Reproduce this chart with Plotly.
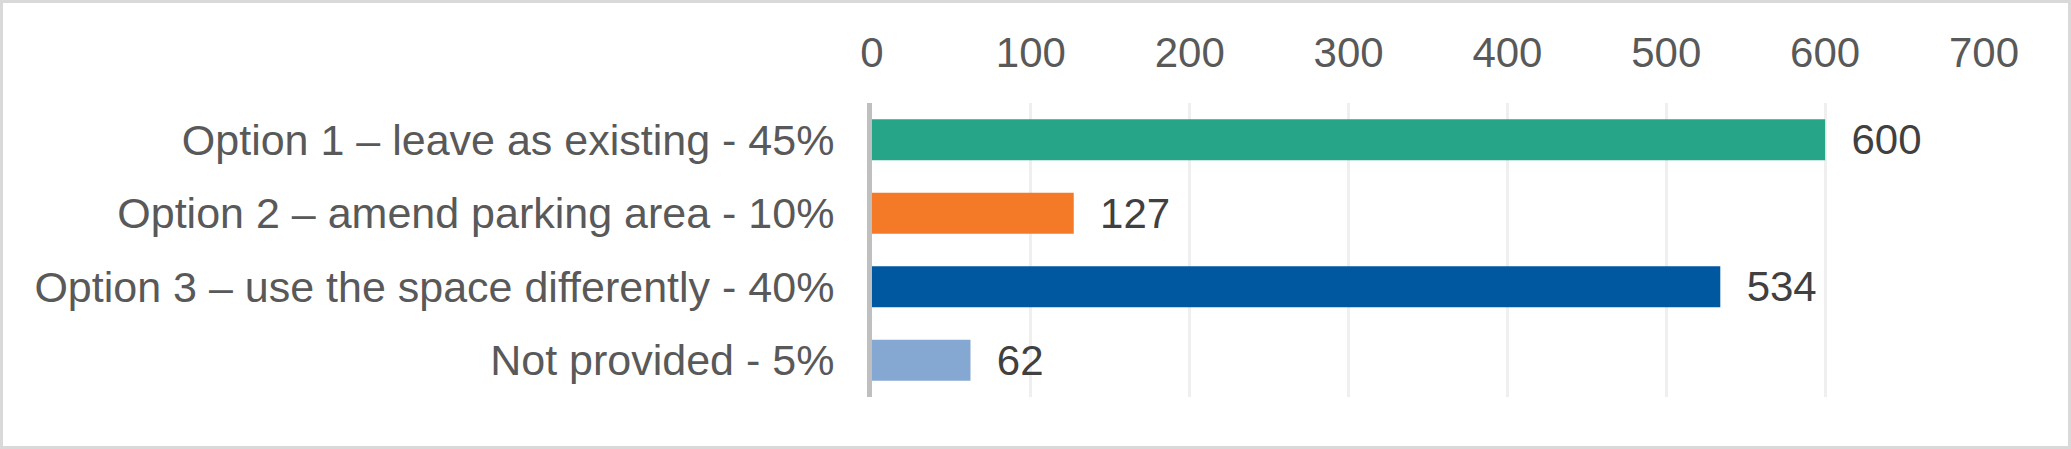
import plotly.graph_objects as go

# chart data
categories = [
    "Option 1 \u2013 leave as existing - 45%",
    "Option 2 \u2013 amend parking area - 10%",
    "Option 3 \u2013 use the space differently - 40%",
    "Not provided - 5%",
]
responses = [600, 127, 534, 62]
bar_colors = ["#27A588", "#F47A28", "#0058A0", "#85A8D3"]
x_ticks = [0, 100, 200, 300, 400, 500, 600, 700]

# page size and margins (pixels)
W, H = 2071, 449
L, R, T, B = 872, 87, 103, 52
FONT = "Liberation Sans, Arial"


def create_figure():
    trace = go.Bar(
        x=responses,
        y=categories,
        orientation="h",
        marker=dict(color=bar_colors, line=dict(width=0)),
        text=responses,
        texttemplate="\u00a0\u00a0%{x}",
        textposition="outside",
        constraintext="none",
        textfont=dict(color="#404040", size=42, family=FONT),
        cliponaxis=False,
        hoverinfo="skip",
    )
    fig = go.Figure(data=[trace])

    pw = W - L - R
    ph = H - T - B
    # light grey frame round the whole chart
    fig.add_shape(
        type="rect", xref="paper", yref="paper",
        x0=(-L + 1.5) / pw, x1=1 + (R - 1.5) / pw,
        y0=(-B + 1.5) / ph, y1=1 + (T - 1.5) / ph,
        line=dict(color="#D9D9D9", width=3),
        layer="above",
    )

    fig.update_layout(
        width=W,
        height=H,
        margin=dict(l=L, r=R, t=T, b=B, pad=0),
        paper_bgcolor="white",
        plot_bgcolor="white",
        showlegend=False,
        bargap=0.44,
        font=dict(family=FONT, color="#595959", size=43),
        xaxis=dict(
            side="top",
            range=[0, 700],
            tickvals=x_ticks,
            showgrid=True,
            gridcolor="#EFEFEF",
            gridwidth=2.5,
            zeroline=False,
            showline=False,
            ticks="",
            ticklabelstandoff=27,
            tickfont=dict(size=42, color="#595959"),
        ),
        yaxis=dict(
            autorange="reversed",
            showgrid=False,
            zeroline=False,
            showline=True,
            linecolor="#BFBFBF",
            linewidth=5,
            ticks="",
            ticklabelstandoff=24,
            tickfont=dict(size=43, color="#595959"),
        ),
    )
    return fig


fig = create_figure()
# drop the browser's default body margin so the chart fills the window
fig.write_html("out.html", config={"displayModeBar": False},
               post_script="document.body.style.margin='0';")
